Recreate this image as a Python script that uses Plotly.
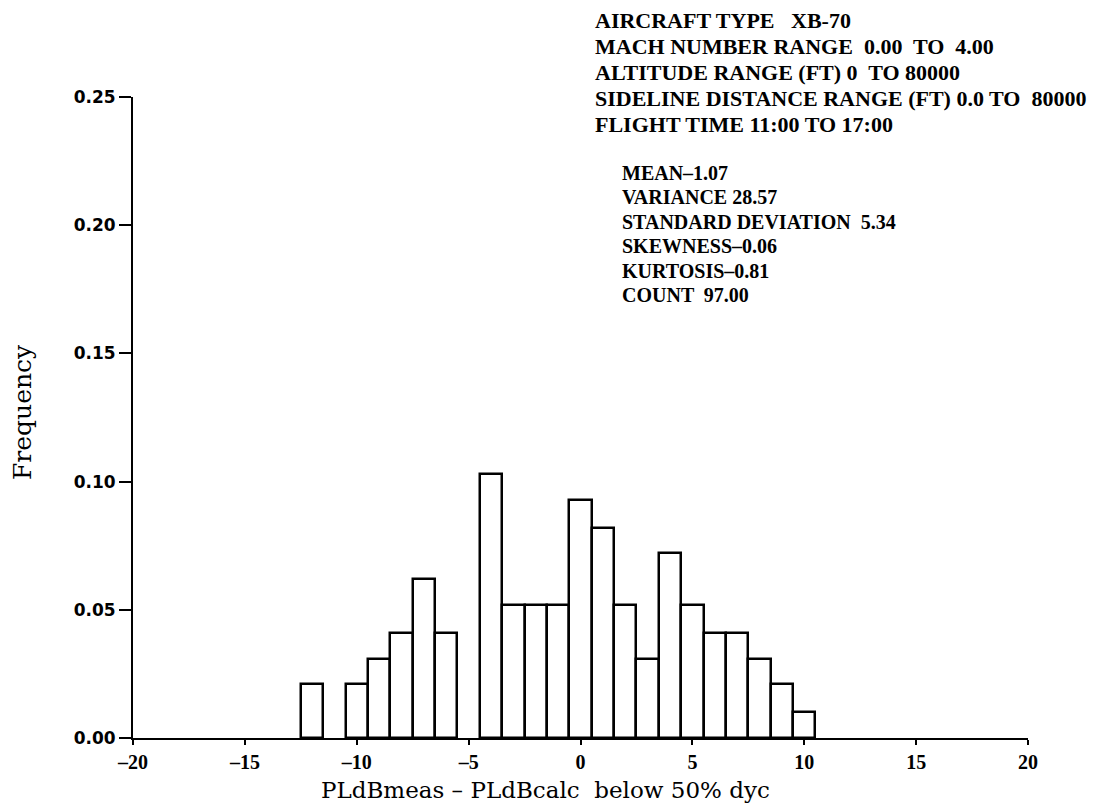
import plotly.graph_objects as go

# Histogram of PLdB differences (bin centres, relative frequency)
bin_centers = [-12, -10, -9, -8, -7, -6, -4, -3, -2, -1, 0, 1, 2, 3, 4, 5, 6, 7, 8, 9, 10]
frequencies = [0.021, 0.021, 0.031, 0.041, 0.062, 0.041, 0.103, 0.052, 0.052, 0.052,
               0.093, 0.082, 0.052, 0.031, 0.072, 0.052, 0.041, 0.041, 0.031, 0.021, 0.010]

x_ticks = [-20, -15, -10, -5, 0, 5, 10, 15, 20]
y_ticks = [0.00, 0.05, 0.10, 0.15, 0.20, 0.25]

header_lines = [
    "AIRCRAFT TYPE   XB-70",
    "MACH NUMBER RANGE  0.00  TO  4.00",
    "ALTITUDE RANGE (FT) 0  TO 80000",
    "SIDELINE DISTANCE RANGE (FT) 0.0 TO  80000",
    "FLIGHT TIME 11:00 TO 17:00",
]
stats_lines = [
    "MEAN\u20131.07",
    "VARIANCE 28.57",
    "STANDARD DEVIATION  5.34",
    "SKEWNESS\u20130.06",
    "KURTOSIS\u20130.81",
    "COUNT  97.00",
]

W, H = 1098, 805
L, R, T, B = 133, 70, 97, 67
pw, ph = W - L - R, H - T - B


def px_to_paper(px, py):
    return (px - L) / pw, (H - B - py) / ph


fig = go.Figure()
fig.add_trace(go.Bar(
    x=bin_centers,
    y=frequencies,
    width=1.0,
    marker=dict(color="white", line=dict(color="black", width=2.5)),
    showlegend=False,
))

serif = "Liberation Serif"
ann = []
for i, line in enumerate(header_lines):
    x, y = px_to_paper(593, 21 + i * 25.8)
    ann.append(dict(x=x, y=y, xref="paper", yref="paper", text=line, showarrow=False,
                    xanchor="left", yanchor="middle",
                    font=dict(family=serif, size=22, color="black", weight="bold")))
for i, line in enumerate(stats_lines):
    x, y = px_to_paper(620, 173 + i * 24.4)
    ann.append(dict(x=x, y=y, xref="paper", yref="paper", text=line, showarrow=False,
                    xanchor="left", yanchor="middle",
                    font=dict(family=serif, size=20, color="black", weight="bold")))

# axis titles
x, y = px_to_paper(545, 790)
ann.append(dict(x=x, y=y, xref="paper", yref="paper",
                text="PLdBmeas \u2013 PLdBcalc  below 50% dyc", showarrow=False,
                xanchor="center", yanchor="middle",
                font=dict(family="DejaVu Serif", size=23, color="black")))
x, y = px_to_paper(22, 412)
ann.append(dict(x=x, y=y, xref="paper", yref="paper", text="Frequency", showarrow=False,
                textangle=-90, xanchor="center", yanchor="middle",
                font=dict(family="DejaVu Serif", size=25, color="black")))

fig.update_layout(
    width=W, height=H,
    margin=dict(l=L, r=R, t=T, b=B),
    paper_bgcolor="white", plot_bgcolor="white",
    bargap=0,
    annotations=ann,
    xaxis=dict(range=[-20, 20], tickvals=x_ticks, ticktext=[str(v).replace("-", "\u2013") for v in x_ticks],
               showgrid=False, zeroline=False, showline=True, linecolor="black", linewidth=2,
               ticks="outside", ticklen=5, tickwidth=2, tickcolor="black",
               tickfont=dict(family=serif, size=20, color="black", weight="bold")),
    yaxis=dict(range=[0, 0.25], tickvals=y_ticks, ticktext=[f"{v:.2f}" for v in y_ticks],
               showgrid=False, zeroline=False, showline=True, linecolor="black", linewidth=2,
               ticks="outside", ticklen=12, tickwidth=2, tickcolor="black",
               tickfont=dict(family="DejaVu Sans", size=17, color="black", weight="bold")),
)

fig.write_html("out.html")
